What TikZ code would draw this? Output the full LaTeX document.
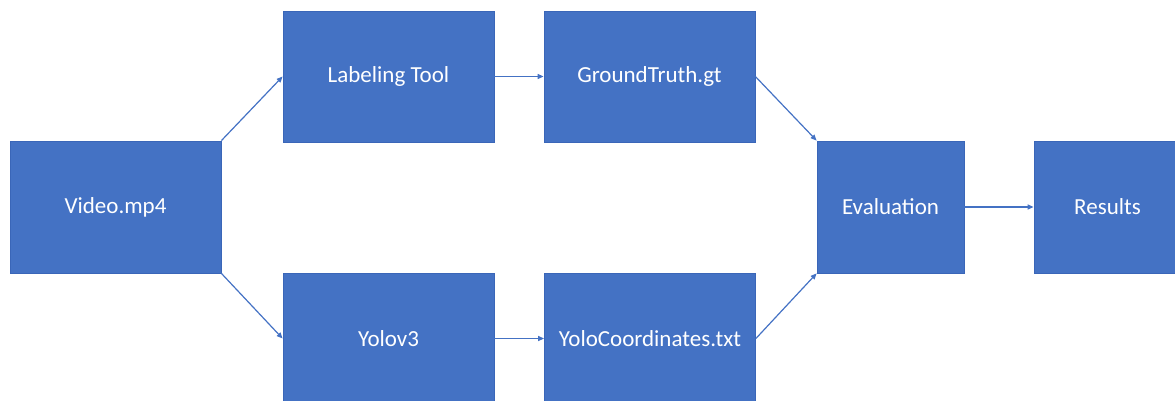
\documentclass[tikz,border=0pt]{standalone}
\usepackage{fontspec}
\setmainfont{Carlito}
\usetikzlibrary{arrows.meta}
\definecolor{boxblue}{HTML}{4472C4}
\definecolor{boxedge}{HTML}{3A66B8}
\tikzset{
  stage/.style={rectangle, fill=boxblue, draw=boxedge, line width=0.8pt,
    inner sep=0pt, text=white, font=\fontsize{23}{27}\selectfont},
  flow/.style={draw=boxblue, line width=1.2pt,
    -{Triangle[length=6pt,width=5pt]}}
}
\begin{document}
\begin{tikzpicture}[x=1pt,y=-1pt]
  \useasboundingbox (0,0) rectangle (1175,401);
  \clip (0,0) rectangle (1175,401);
  % boxes given by their corners (pixel grid, y downward)
  \node[stage, minimum width=211pt, minimum height=132pt] (video) at (115.5,207) {Video.mp4};
  \node[stage, minimum width=211pt, minimum height=131pt] (label) at (388.5,76.5) {Labeling Tool};
  \node[stage, minimum width=211pt, minimum height=131pt] (gt) at (649.5,76.5) {GroundTruth.gt};
  \node[stage, minimum width=211pt, minimum height=131pt] (yolo) at (388.5,338.5) {Yolov3};
  \node[stage, minimum width=211pt, minimum height=131pt] (coords) at (650,338.5) {YoloCoordinates.txt};
  \node[stage, minimum width=147pt, minimum height=132pt] (eval) at (890.5,207) {Evaluation};
  \node[stage, minimum width=147pt, minimum height=132pt] (res) at (1107.5,207) {Results};
  % connectors
  \draw[flow] (video.north east) -- (label.west);
  \draw[flow] (video.south east) -- (yolo.west);
  \draw[flow] (label.east) -- (gt.west);
  \draw[flow] (yolo.east) -- (coords.west);
  \draw[flow] (gt.east) -- (eval.north west);
  \draw[flow] (coords.east) -- (eval.south west);
  \draw[flow] (eval.east) -- (res.west);
\end{tikzpicture}
\end{document}
